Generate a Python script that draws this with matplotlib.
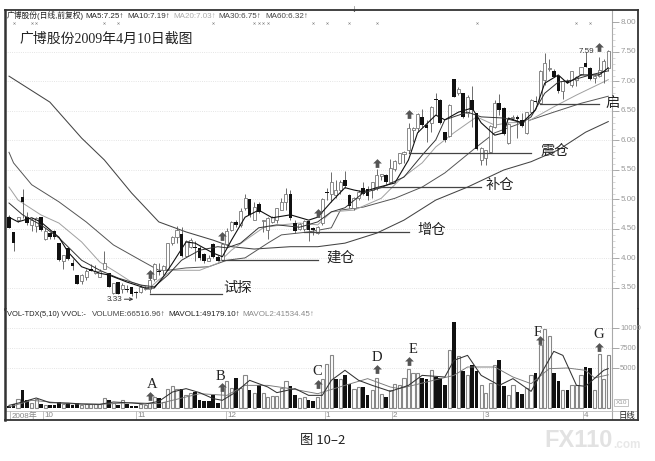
import numpy as np
import matplotlib
matplotlib.use('Agg')
import matplotlib.pyplot as plt

plt.rcParams['font.family'] = ['Liberation Sans', 'Noto Sans CJK SC', 'DejaVu Sans']

# daily candles
opens = [4.71,4.45,4.66,5.04,4.70,4.57,4.55,4.70,4.33,4.43,
         4.47,4.26,3.95,4.17,3.92,3.72,3.62,3.69,3.82,3.76,
         3.69,3.83,3.76,3.41,3.61,3.49,3.49,3.51,3.43,3.43,
         3.48,3.49,3.65,3.79,3.80,3.82,4.27,4.36,4.41,4.04,
         4.20,4.20,4.17,4.08,3.96,4.25,4.03,3.97,4.25,4.49,
         4.62,4.57,4.85,5.00,4.66,4.93,4.63,4.48,4.61,4.66,
         4.83,4.95,5.09,4.60,4.50,4.50,4.64,4.51,4.44,4.60,
         5.13,5.10,5.08,5.16,5.33,5.08,4.85,5.02,5.19,5.18,
         5.16,5.19,5.39,5.41,5.30,5.51,5.61,5.77,5.84,6.18,
         6.21,6.40,6.26,6.29,6.71,6.69,6.15,6.08,7.04,6.80,
         6.80,6.46,6.68,6.46,5.67,5.70,5.81,6.23,6.63,6.55,
         5.95,6.38,6.39,6.35,6.12,6.49,6.67,6.63,7.03,7.21,
         7.18,7.09,6.83,7.01,6.94,7.03,7.13,7.32,7.23,7.06,7.09,7.17,7.22]
closes = [4.51,4.26,4.70,4.95,4.60,4.65,4.68,4.48,4.47,4.36,
          4.36,3.97,4.06,3.99,3.88,3.57,3.72,3.79,3.79,3.79,
          3.79,3.92,3.52,3.58,3.40,3.55,3.46,3.40,3.41,3.51,
          3.50,3.63,3.91,3.77,3.88,4.26,4.36,4.48,4.04,4.29,
          4.31,4.18,4.00,3.96,4.01,4.03,3.96,4.25,4.47,4.61,
          4.57,4.81,5.03,4.74,4.88,4.78,4.66,4.68,4.70,4.85,
          4.95,5.10,4.68,4.47,4.58,4.63,4.48,4.48,4.53,5.00,
          5.11,5.30,5.16,5.30,5.23,4.89,5.02,5.13,5.10,5.06,
          5.30,5.41,5.43,5.29,5.53,5.66,5.78,5.81,6.21,6.21,
          6.45,6.26,6.21,6.57,6.69,6.29,6.00,6.60,6.74,6.88,
          6.39,6.74,6.51,5.86,5.87,5.84,6.25,6.63,6.51,6.11,
          6.28,6.40,6.36,6.25,6.49,6.68,6.65,7.17,7.31,7.23,
          7.08,6.83,7.00,6.98,7.17,7.07,7.24,7.25,7.05,7.09,7.20,7.35,7.52]
highs = [4.74,4.45,4.71,5.17,4.79,4.68,4.71,4.71,4.51,4.45,
         4.48,4.26,4.06,4.19,3.99,3.72,3.74,3.83,3.91,3.89,
         3.82,4.12,3.76,3.59,3.61,3.58,3.55,3.52,3.45,3.55,
         3.53,3.72,3.92,3.92,3.89,4.27,4.38,4.55,4.54,4.31,
         4.34,4.29,4.21,4.10,4.06,4.26,4.06,4.26,4.51,4.64,
         4.65,4.85,5.09,5.00,4.95,4.95,4.66,4.70,4.72,4.85,
         5.02,5.19,5.16,4.66,4.60,4.65,4.66,4.54,4.55,5.02,
         5.19,5.47,5.33,5.33,5.49,5.10,5.05,5.16,5.30,5.22,
         5.30,5.51,5.44,5.44,5.68,5.67,5.79,5.83,6.29,6.23,
         6.46,6.54,6.35,6.59,6.80,6.70,6.15,6.62,7.05,6.90,
         6.81,6.77,6.92,6.46,5.89,5.84,6.26,6.69,6.78,6.56,
         6.29,6.43,6.43,6.46,6.49,6.70,6.75,7.20,7.48,7.38,
         7.21,7.11,7.03,7.04,7.18,7.09,7.25,7.50,7.25,7.11,7.42,7.38,7.54]
lows = [4.51,4.13,4.62,4.68,4.57,4.47,4.45,4.47,4.31,4.33,
        4.33,3.95,3.83,3.97,3.80,3.56,3.57,3.63,3.78,3.74,
        3.68,3.82,3.51,3.40,3.39,3.41,3.44,3.37,3.33,3.42,
        3.47,3.41,3.62,3.72,3.72,3.80,4.23,4.26,4.03,4.02,
        4.17,3.95,3.97,3.93,3.95,4.00,3.95,3.95,4.21,4.47,
        4.54,4.54,4.82,4.71,4.65,4.77,4.45,4.33,4.60,4.60,
        4.82,4.82,4.66,4.44,4.48,4.47,4.30,4.40,4.42,4.57,
        4.99,4.96,5.02,5.10,5.19,4.85,4.83,4.99,5.08,4.99,
        5.02,5.16,5.33,5.27,5.29,5.49,5.60,5.61,5.78,5.98,
        6.15,6.23,5.98,6.15,6.43,6.28,5.98,6.06,6.73,6.77,
        6.38,6.40,6.23,5.84,5.58,5.58,5.78,6.21,6.43,6.09,
        5.94,6.35,6.04,6.23,6.11,6.46,6.63,6.62,6.94,7.17,
        7.07,6.81,6.70,6.97,6.91,6.92,7.11,7.24,7.03,6.98,7.07,6.98,7.18]

# moving average lines, sampled by eye at some days
ma5_days = [0,2,5,7,11,13,16,20,22,26,30,32,34,36,39,41,45,47,49,52,55,58,62,66,68,71,74,76,78,81,85,88,90,94,96,99,102,104,107,109,110,113,116,118,121,123,126,130,132]
ma5_vals = [4.70,4.62,4.69,4.62,4.36,4.11,3.86,3.75,3.72,3.60,3.50,3.50,3.69,3.92,4.28,4.26,4.09,4.03,4.31,4.70,4.82,4.69,4.74,4.65,4.70,4.96,5.20,5.16,5.13,5.20,5.28,5.67,6.13,6.43,6.35,6.48,6.55,6.30,6.09,6.13,6.38,6.30,6.52,6.97,7.11,6.97,7.11,7.11,7.23]
ma10_days = [0,3,7,11,16,20,24,29,32,35,38,42,46,48,51,55,59,64,68,71,74,78,82,87,91,94,96,101,104,109,113,115,118,121,124,128,132]
ma10_vals = [4.94,4.74,4.57,4.35,3.97,3.80,3.67,3.55,3.52,3.72,3.97,4.14,4.20,4.18,4.26,4.52,4.57,4.53,4.62,4.79,4.86,5.11,5.20,5.38,5.75,6.01,6.35,6.48,6.40,6.38,6.30,6.40,6.80,6.99,7.02,7.11,7.18]
ma20_days = [0,2,7,11,16,20,24,27,31,33,36,42,46,49,53,56,60,64,68,71,76,82,86,91,94,98,103,107,110,114,120,125,132]
ma20_vals = [5.21,4.99,4.74,4.60,4.28,3.94,3.75,3.60,3.50,3.64,3.80,3.80,3.92,4.14,4.36,4.52,4.57,4.60,4.57,4.79,4.82,5.02,5.33,5.62,5.89,6.13,6.40,6.26,6.30,6.31,6.57,6.77,7.03]
ma30_days = [0,1,5,11,17,23,29,33,35,39,44,48,52,57,60,66,71,73,78,85,91,96,103,107,113,120,126,132]
ma30_vals = [5.80,5.62,5.25,4.96,4.62,4.23,3.97,3.80,3.80,3.84,3.86,3.97,4.01,4.26,4.40,4.45,4.52,4.82,4.87,5.02,5.21,5.45,5.89,6.13,6.30,6.48,6.63,6.75]
ma60_days = [0,9,16,21,27,33,39,45,49,54,62,68,74,81,87,94,101,109,115,121,127,132]
ma60_vals = [7.09,6.65,6.04,5.67,5.11,4.62,4.45,4.31,4.20,4.16,4.20,4.20,4.26,4.43,4.65,4.99,5.21,5.50,5.64,5.84,6.14,6.32]

volumes = [250,540,1170,2210,960,625,1170,500,330,330,
           420,710,500,670,420,625,420,460,460,460,
           460,1290,960,625,420,1000,500,250,250,500,
           330,670,1330,1250,750,2330,2790,2420,2420,1670,
           1920,2000,960,875,830,1580,625,2500,3420,2500,
           3790,2500,4170,2210,1920,2830,1875,1375,1460,1500,
           2500,3330,2750,1580,1290,1375,960,875,1375,3670,
           5540,6580,3670,3670,4170,3040,2330,2625,2625,1670,
           2210,3750,1790,1375,2210,3040,2920,3750,4920,4375,
           4375,3790,3670,4790,3875,3750,2830,7290,10750,6500,
           4580,4170,5420,4580,2830,1920,3170,5420,6040,2710,
           1670,2830,2000,1790,2500,4170,4375,7920,9920,8960,
           4330,3375,2290,2210,2830,2920,4080,5125,5040,2210,6790,3670,6670]
vol_black_days = [0,1,3,4,7,9,10,11,13,14,15,22,24,26,27,28,33,38,41,42,43,44,45,46,50,53,55,62,63,66,67,72,74,75,78,79,83,91,92,94,95,96,98,100,102,103,108,109,112,113,116,120,121,123,127,128]

mavol1_days = [0,3,6,9,13,16,20,23,27,30,33,36,39,42,45,47,50,53,57,59,63,66,69,71,74,77,80,84,88,91,96,98,101,104,108,111,115,117,120,122,125,127,131,132]
mavol1_vals = [330,750,1250,670,625,500,460,750,625,500,830,2000,2420,1920,1170,960,2000,3460,2625,1920,2420,1580,1580,3460,4710,3460,2830,2080,2830,4080,3875,5960,6580,4080,2830,3670,2080,4080,7080,6580,2830,2710,4710,4918]
mavol2_days = [0,5,13,20,27,33,36,42,48,52,57,62,68,74,79,84,86,92,98,101,107,111,115,119,123,127,129,132]
mavol2_vals = [125,960,540,460,670,540,960,1790,1580,2830,2830,2420,1790,2830,3670,2625,2420,3250,4080,5125,5125,3875,3040,4920,5000,4710,3750,4153]

# stage lines and labels on the price panel
stage_names = ['试探', '建仓', '增仓', '补仓', '震仓', '启']
stage_start = [31, 47, 65, 81, 88, 117]
stage_end = [47, 68, 88, 104, 115, 130]
stage_price = [3.40, 3.97, 4.45, 5.21, 5.79, 6.62]
stage_text_day = [47.2, 70, 90, 105, 117, 131.3]
stage_text_price = [3.50, 4.01, 4.48, 5.25, 5.82, 6.64]

signal_days = [31, 47, 68, 81, 88, 130]
signal_prices = [3.74, 4.38, 4.77, 5.62, 6.45, 7.58]

vol_signal_days = [31, 47, 68, 81, 88, 117, 130]
vol_signal_vals = [1500, 2625, 3000, 4875, 5875, 8500, 7625]
letters = ['A', 'B', 'C', 'D', 'E', 'F', 'G']
letter_days = [31.5, 46.5, 68, 81, 89, 116.5, 130]
letter_vals = [3000, 4000, 4625, 6375, 7375, 9500, 9250]

# little marks the software leaves under the header
event_days = [1, 5, 6, 21, 24, 45, 54, 55, 56, 57, 67, 70, 75, 81, 103, 125, 128]

price_ticks = [8.0, 7.5, 7.0, 6.5, 6.0, 5.5, 5.0, 4.5, 4.0, 3.5]
vol_ticks = [10000, 7500, 5000]
month_labels = ['2008年', '10', '11', '12', '1', '2', '3', '4']
month_days = [0.2, 7.5, 28, 47.7, 69.5, 84.3, 104.4, 126.4]

W, H = 655, 461
XLIM = (-0.88, 138.55)
SCALE_DAY = 132.8


def ax_rect(left, top, right, bottom):
    return [left / W, 1 - bottom / H, (right - left) / W, (bottom - top) / H]


def ptext(x, y, s, **kw):
    kw.setdefault('va', 'center')
    fig.text(x / W, 1 - y / H, s, **kw)


fig = plt.figure(figsize=(6.55, 4.61), dpi=100, facecolor='white')
ax = fig.add_axes(ax_rect(5, 10, 638, 309))
axv = fig.add_axes(ax_rect(5, 309, 638, 420))

for a in (ax, axv):
    a.set_xlim(*XLIM)
    a.set_xticks([])
    a.set_yticks([])
    for s in a.spines.values():
        s.set_color('#333333')
        s.set_linewidth(1.3)
    a.spines['left'].set_linewidth(1.8)
    a.axvline(SCALE_DAY, color='#aaaaaa', lw=0.8)

ax.spines['bottom'].set_color('#999999')
ax.spines['bottom'].set_linewidth(0.7)
axv.spines['top'].set_visible(False)

ax.set_ylim(3.144, 8.211)
axv.set_ylim(-1500, 12375)

# price panel
days = np.arange(len(opens))
o = np.array(opens)
c = np.array(closes)
down = c < o

ax.hlines(price_ticks[1:], XLIM[0], SCALE_DAY, color='#dcdcdc', lw=0.6, linestyles=':', zorder=1)
ax.scatter(event_days, [7.99] * len(event_days), marker='x', s=2.5, lw=0.4, color='#888888', zorder=2)

ax.plot(ma60_days, ma60_vals, color='#444444', lw=0.75, zorder=2)
ax.plot(ma30_days, ma30_vals, color='#555555', lw=0.7, zorder=2)
ax.plot(ma20_days, ma20_vals, color='#a0a0a0', lw=0.7, zorder=2)

ax.vlines(days, lows, highs, color='#555555', lw=0.6, zorder=3)
ax.bar(days[~down], (c - o)[~down], bottom=o[~down], width=0.68, facecolor='white',
       edgecolor='#777777', lw=0.6, zorder=4)
ax.bar(days[down], (o - c)[down], bottom=c[down], width=0.8, color='#111111', zorder=4)

ax.plot(ma10_days, ma10_vals, color='#333333', lw=0.7, zorder=5)
ax.plot(ma5_days, ma5_vals, color='#111111', lw=0.8, zorder=5)

for i in range(len(stage_names)):
    ax.plot([stage_start[i], stage_end[i]], [stage_price[i]] * 2, color='#444444', lw=0.9, zorder=5)
    ax.text(stage_text_day[i], stage_text_price[i], stage_names[i], fontsize=10.3, ha='left',
            va='center', color='#222222', zorder=6, family=['Noto Sans CJK SC'])

# fat up arrow marker used by the software
up_arrow = [(-0.42, -1), (0.42, -1), (0.42, 0), (1, 0), (0, 1), (-1, 0), (-0.42, 0)]
ax.scatter(signal_days, signal_prices, marker=up_arrow, s=40, color='#555555', lw=0, zorder=7)
axv.scatter(vol_signal_days, vol_signal_vals, marker=up_arrow, s=40, color='#555555', lw=0, zorder=7)

ax.annotate('', xy=(28, 3.31), xytext=(24.8, 3.31),
            arrowprops=dict(arrowstyle='->', color='#333333', lw=0.7, mutation_scale=5))
ax.text(21.6, 3.31, '3.33', fontsize=5.8, va='center', color='#333333')
ax.text(125.4, 7.50, '7.59', fontsize=5.8, va='center', color='#333333', zorder=7)

for p in price_ticks:
    ax.hlines(p, SCALE_DAY, SCALE_DAY + 1.6, color='#999999', lw=0.6)
    ax.text(134.8, p, f'{p:.2f}', fontsize=5.8, color='#999999', va='center')
minor = np.arange(3.5, 8.0, 0.1)
ax.hlines(minor, SCALE_DAY, SCALE_DAY + 0.7, color='#bbbbbb', lw=0.4)

# volume panel
vols = np.array(volumes)
is_black = np.isin(days, vol_black_days)
axv.hlines(vol_ticks, XLIM[0], SCALE_DAY, color='#dcdcdc', lw=0.6, linestyles=':', zorder=1)
axv.bar(days[~is_black], vols[~is_black], width=0.7, facecolor='white', edgecolor='#888888',
        lw=0.8, zorder=2)
axv.bar(days[is_black], vols[is_black], width=0.8, color='#111111', zorder=2)
axv.plot(mavol2_days, mavol2_vals, color='#777777', lw=0.65, zorder=3)
axv.plot(mavol1_days, mavol1_vals, color='#333333', lw=0.75, zorder=3)

for i in range(len(letters)):
    axv.text(letter_days[i], letter_vals[i], letters[i], fontsize=10.5, ha='center', va='center',
             color='#222222', family=['Liberation Serif'], zorder=7)

for v in vol_ticks:
    axv.hlines(v, SCALE_DAY, SCALE_DAY + 1.6, color='#999999', lw=0.6)
    axv.text(SCALE_DAY + 1.8, v, str(v), fontsize=5.5, color='#999999', va='center')
axv.text(133.6, 650, 'X10', fontsize=4.6, color='#999999', va='center',
         bbox=dict(fc='white', ec='#aaaaaa', lw=0.5, pad=0.8))

# date strip at the bottom
axv.axhline(-400, color='#bbbbbb', lw=0.6)
for d, lab in zip(month_days, month_labels):
    axv.vlines(d, -1500, -400, color='#aaaaaa', lw=0.5)
    axv.text(d + 0.3, -950, lab, fontsize=5.8, color='#888888', va='center')
axv.text(134.2, -950, '日线', fontsize=6, color='#222222', va='center', family=['Noto Sans CJK SC'])

# header text
ptext(7, 16, '广博股份(日线,前复权)', fontsize=5.6, color='#222222')
ma_labels = ['MA5:7.25↑', 'MA10:7.19↑', 'MA20:7.03↑', 'MA30:6.75↑', 'MA60:6.32↑']
ma_x = [85, 127, 173, 218, 265]
ma_colors = ['#222222', '#333333', '#aaaaaa', '#444444', '#444444']
for x, lab, col in zip(ma_x, ma_labels, ma_colors):
    ptext(x, 16, lab, fontsize=5.8, color=col)
ptext(354, 9, '↓', fontsize=7, color='#333333', ha='center')

ptext(20, 39, '广博股份2009年4月10日截图', fontsize=10, color='#222222',
      family=['Liberation Serif', 'Noto Sans CJK SC'])

ptext(7, 314, 'VOL-TDX(5,10) VVOL:-', fontsize=5.4, color='#222222')
ptext(92, 314, 'VOLUME:66516.96↑', fontsize=5.8, color='#444444')
ptext(168, 314, 'MAVOL1:49179.10↑', fontsize=5.8, color='#222222')
ptext(242, 314, 'MAVOL2:41534.45↑', fontsize=5.8, color='#888888')

ptext(300, 440, '图 10–2', fontsize=9.5, color='#222222', family=['Noto Sans CJK SC', 'Liberation Sans'])

ptext(544, 440, 'FX110', fontsize=17, fontweight='bold', color='#e2e2e2')
ptext(613, 445, '.com', fontsize=8.5, fontweight='bold', color='#e8e8e8')

fig.savefig('out.png', dpi=100, facecolor='white')
